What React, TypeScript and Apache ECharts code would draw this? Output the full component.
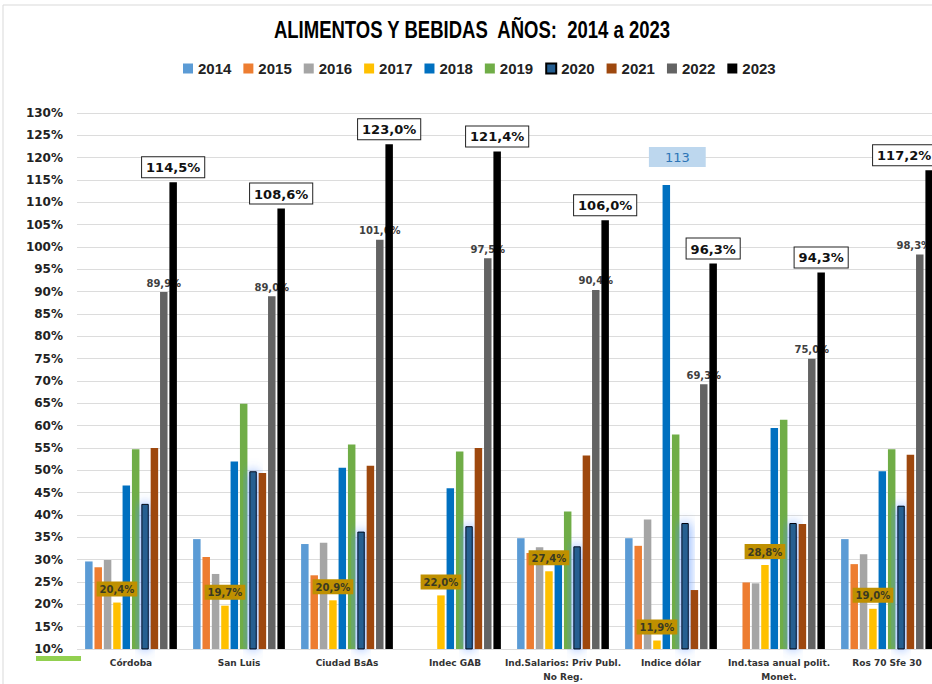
import React, { useEffect, useRef } from "react";
import * as echarts from "echarts";

const categories = [
  "Córdoba",
  "San Luis",
  "Ciudad BsAs",
  "Indec GAB",
  "Ind.Salarios: Priv Publ.\nNo Reg.",
  "Indice dólar",
  "Ind.tasa anual polit.\nMonet.",
  "Ros 70 Sfe 30",
];

const years = ["2014", "2015", "2016", "2017", "2018", "2019", "2020", "2021", "2022", "2023"];

const v2014 = [29.6, 34.6, 33.5, null, 34.8, 34.8, null, 34.6];
const v2015 = [28.3, 30.6, 26.5, null, 31.5, 33.1, 24.9, 29.0];
const v2016 = [29.9, 26.8, 33.8, null, 32.8, 39.0, 24.7, 31.2];
const v2017 = [20.4, 19.7, 20.9, 22.0, 27.4, 11.9, 28.8, 19.0];
const v2018 = [46.6, 52.0, 50.6, 46.0, 30.0, 113.9, 59.5, 49.8];
const v2019 = [54.7, 64.9, 55.8, 54.2, 40.8, 58.0, 61.3, 54.7];
const v2020 = [42.5, 49.8, 36.3, 37.5, 33.0, 38.2, 38.2, 42.1];
const v2021 = [55.0, 49.4, 51.0, 55.0, 53.3, 23.2, 38.0, 53.5];
const v2022 = [89.9, 89.0, 101.6, 97.5, 90.4, 69.3, 75.0, 98.3];
const v2023 = [114.5, 108.6, 123.0, 121.4, 106.0, 96.3, 94.3, 117.2];

const dolarLabel = "113";
const titleText = "ALIMENTOS Y BEBIDAS  AÑOS:  2014 a 2023";

const colors = ["#5B9BD5", "#ED7D31", "#A5A5A5", "#FFC000", "#0070C0", "#70AD47", "#255E91", "#9E480E", "#636363", "#000000"];

const fmt = (v: number) => v.toFixed(1).replace(".", ",") + "%";

export default function App() {
  const ref = useRef<HTMLDivElement>(null);
  useEffect(() => {
    if (!ref.current) return;
    const chart = echarts.init(ref.current, null, { renderer: "svg" });
    const allData = [v2014, v2015, v2016, v2017, v2018, v2019, v2020, v2021, v2022, v2023];
    const series: any[] = allData.map((d, i) => {
      const s: any = {
        name: years[i],
        type: "bar",
        data: d.map((v) => (v === null ? "-" : v)),
        itemStyle: { color: colors[i] },
      };
      if (i === 9) s.zlevel = 1;
      if (i === 3) {
        s.label = {
          show: true,
          position: "top",
          distance: 6,
          formatter: (p: any) => fmt(p.value),
          backgroundColor: "#BF9000",
          color: "#3a3a22",
          fontFamily: "DejaVu Sans",
          fontWeight: "bold",
          fontSize: 10,
          padding: [3, 3, 2, 3],
        };
      }
      if (i === 4) {
        s.data = d.map((v, k) =>
          k === 5
            ? {
                value: v,
                label: {
                  show: true,
                  position: "top",
                  distance: 18,
                  offset: [11, 0],
                  formatter: dolarLabel,
                  backgroundColor: "#BDD7EE",
                  color: "#2E75B6",
                  fontFamily: "DejaVu Sans",
                  fontSize: 13,
                  padding: [4, 16, 3, 16],
                },
              }
            : v === null
            ? "-"
            : v
        );
      }
      if (i === 6) {
        s.itemStyle = {
          color: colors[i],
          borderColor: "#000",
          borderWidth: 1,
          shadowBlur: 12,
          shadowColor: "rgba(80,140,255,0.95)",
        };
      }
      if (i === 8) {
        const grayLabel = {
          show: true,
          position: "top",
          distance: 4,
          formatter: (p: any) => fmt(p.value),
          color: "#404040",
          fontFamily: "DejaVu Sans",
          fontWeight: "bold",
          fontSize: 10,
        };
        s.label = grayLabel;
        s.data = d.map((v, k) =>
          k === 7 ? { value: v, label: { ...grayLabel, offset: [-6, 0] } } : v
        );
      }
      if (i === 9) {
        const boxLabel = {
          show: true,
          position: "top",
          distance: 5,
          formatter: (p: any) => fmt(p.value),
          backgroundColor: "#ffffff",
          borderColor: "#222",
          borderWidth: 1,
          color: "#111",
          fontFamily: "DejaVu Sans",
          fontWeight: "bold",
          fontSize: 13,
          padding: [4, 4, 3, 4],
        };
        s.label = boxLabel;
        s.data = d.map((v, k) =>
          k === 7 ? { value: v, label: { ...boxLabel, offset: [-25, 0] } } : v
        );
      }
      if (i === 0) {
        s.barCategoryGap = "15%";
        s.barGap = "25%";
      }
      return s;
    });

    chart.setOption({
      animation: false,
      backgroundColor: "#ffffff",
      legend: {
        top: 56,
        left: 178,
        itemWidth: 10,
        itemHeight: 10,
        itemGap: 12,
        icon: "rect",
        data: years,
        textStyle: {
          fontFamily: "Liberation Sans, Arial, sans-serif",
          fontWeight: "bold",
          fontSize: 15,
          color: "#222",
        },
      },
      grid: { left: 77, right: 0, top: 113, bottom: 35, containLabel: false },
      xAxis: {
        type: "category",
        data: categories,
        axisTick: { show: false },
        axisLine: { show: false },
        axisLabel: {
          interval: 0,
          margin: 7,
          fontFamily: "DejaVu Sans",
          fontWeight: "bold",
          fontSize: 9,
          color: "#333",
          lineHeight: 14,
        },
      },
      yAxis: {
        type: "value",
        min: 10,
        max: 130,
        interval: 5,
        axisLine: { show: false },
        axisTick: { show: false },
        splitLine: { lineStyle: { color: "#dcdcdc", width: 1 } },
        axisLabel: {
          formatter: (v: number) => v + "%",
          margin: 14,
          fontFamily: "DejaVu Sans",
          fontWeight: "bold",
          fontSize: 12,
          color: "#222",
        },
      },
      graphic: [
        {
          type: "rect",
          shape: { x: 3, y: 5, width: 960, height: 720 },
          style: { fill: "none", stroke: "#d9d9d9", lineWidth: 1 },
          silent: true,
          z: -1,
        },
        {
          type: "text",
          x: 472,
          y: 30,
          scaleX: 0.805,
          style: {
            text: titleText,
            textAlign: "center",
            textVerticalAlign: "middle",
            font: "bold 23px 'Liberation Sans', Arial, sans-serif",
            fill: "#000",
          },
          silent: true,
        },
        {
          type: "rect",
          shape: { x: 36, y: 656, width: 45, height: 5 },
          style: { fill: "#92D050" },
          silent: true,
        },
      ],
      series,
    });
    return () => chart.dispose();
  }, []);
  return (
    <div
      ref={ref}
      style={{ position: "fixed", left: 0, top: 0, width: 941, height: 684 }}
    />
  );
}
